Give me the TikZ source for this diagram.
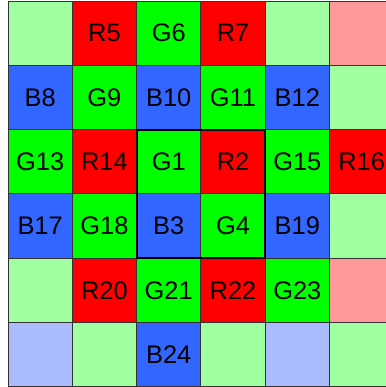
\documentclass[tikz,border=0pt]{standalone}
\usepackage{fontspec}
\setmainfont{Liberation Sans}
\usetikzlibrary{positioning}
\definecolor{pixR}{RGB}{255,0,0}
\definecolor{pixG}{RGB}{0,255,0}
\definecolor{pixB}{RGB}{51,102,255}
\definecolor{pixLR}{RGB}{255,153,153}
\definecolor{pixLG}{RGB}{160,255,160}
\definecolor{pixLB}{RGB}{170,187,255}
\begin{document}
\begin{tikzpicture}[
    x=1.6cm, y=1.6cm,
    every node/.style={font=\fontsize{18}{18}\selectfont},
    cell/.style={draw=black!80, line width=0.6pt, minimum size=1.6cm, inner sep=0pt, outer sep=0pt},
    cellR/.style={cell, fill=pixR},
    cellG/.style={cell, fill=pixG},
    cellB/.style={cell, fill=pixB},
    cellLR/.style={cell, fill=pixLR},
    cellLG/.style={cell, fill=pixLG},
    cellLB/.style={cell, fill=pixLB},
    block/.style={draw=black, line width=1.4pt}
]
\useasboundingbox (-0.624,-5.503) rectangle (5.378,0.516);

% ---- row 0 ----
\node[cellLG] (c00) at (0,0) {};
\node[cellR]  (c01) at (1,0) {R5};
\node[cellG]  (c02) at (2,0) {G6};
\node[cellR]  (c03) at (3,0) {R7};
\node[cellLG] (c04) at (4,0) {};
\node[cellLR] (c05) at (5,0) {};

% ---- row 1 ----
\node[cellB]  (c10) at (0,-1) {B8};
\node[cellG]  (c11) at (1,-1) {G9};
\node[cellB]  (c12) at (2,-1) {B10};
\node[cellG]  (c13) at (3,-1) {G11};
\node[cellB]  (c14) at (4,-1) {B12};
\node[cellLG] (c15) at (5,-1) {};

% ---- row 2 ----
\node[cellG]  (c20) at (0,-2) {G13};
\node[cellR]  (c21) at (1,-2) {R14};
\node[cellG]  (c22) at (2,-2) {G1};
\node[cellR]  (c23) at (3,-2) {R2};
\node[cellG]  (c24) at (4,-2) {G15};
\node[cellR]  (c25) at (5,-2) {R16};

% ---- row 3 ----
\node[cellB]  (c30) at (0,-3) {B17};
\node[cellG]  (c31) at (1,-3) {G18};
\node[cellB]  (c32) at (2,-3) {B3};
\node[cellG]  (c33) at (3,-3) {G4};
\node[cellB]  (c34) at (4,-3) {B19};
\node[cellLG] (c35) at (5,-3) {};

% ---- row 4 ----
\node[cellLG] (c40) at (0,-4) {};
\node[cellR]  (c41) at (1,-4) {R20};
\node[cellG]  (c42) at (2,-4) {G21};
\node[cellR]  (c43) at (3,-4) {R22};
\node[cellG]  (c44) at (4,-4) {G23};
\node[cellLR] (c45) at (5,-4) {};

% ---- row 5 ----
\node[cellLB] (c50) at (0,-5) {};
\node[cellLG] (c51) at (1,-5) {};
\node[cellB]  (c52) at (2,-5) {B24};
\node[cellLG] (c53) at (3,-5) {};
\node[cellLB] (c54) at (4,-5) {};
\node[cellLG] (c55) at (5,-5) {};

% ---- central 2x2 block ----
\draw[block] (c22.north west) rectangle (c33.south east);
\end{tikzpicture}
\end{document}
